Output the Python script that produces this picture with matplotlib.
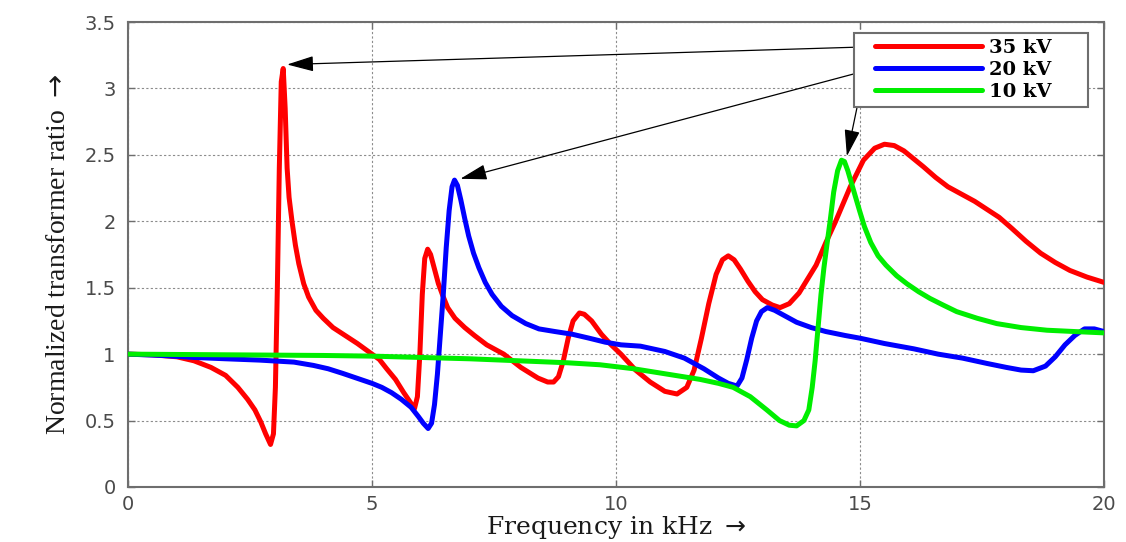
import matplotlib
matplotlib.use("Agg")
import matplotlib.pyplot as plt
from matplotlib.patches import Rectangle

# Frequency (kHz) and normalized transformer ratio for each rated voltage
freq_35kv = [0.0, 0.5, 1.0, 1.35, 1.7, 2.0, 2.25, 2.45, 2.6, 2.72, 2.82, 2.92, 2.98,
             3.02, 3.06, 3.10, 3.14, 3.18, 3.22, 3.26, 3.30, 3.36, 3.43, 3.50, 3.60,
             3.70, 3.85, 4.00, 4.20, 4.45, 4.70, 5.00, 5.15, 5.30, 5.48, 5.65, 5.78,
             5.87, 5.93, 5.98, 6.03, 6.08, 6.14, 6.20, 6.28, 6.36, 6.45, 6.55, 6.70,
             6.90, 7.10, 7.35, 7.70, 8.05, 8.40, 8.60, 8.72, 8.82, 8.92, 9.02, 9.12,
             9.25, 9.35, 9.50, 9.70, 9.90, 10.1, 10.4, 10.7, 11.0, 11.25, 11.45, 11.6,
             11.75, 11.9, 12.05, 12.18, 12.30, 12.42, 12.55, 12.70, 12.85, 13.0, 13.2,
             13.36, 13.55, 13.75, 13.95, 14.1, 14.3, 14.5, 14.8, 15.07, 15.3, 15.5,
             15.7, 15.9, 16.1, 16.3, 16.55, 16.8, 17.1, 17.35, 17.6, 17.85, 18.1, 18.4,
             18.7, 19.0, 19.3, 19.65, 20.0]
ratio_35kv = [1.00, 0.995, 0.98, 0.95, 0.90, 0.84, 0.75, 0.66, 0.58, 0.49, 0.40, 0.32, 0.40,
              0.75, 1.50, 2.40, 3.05, 3.15, 2.85, 2.40, 2.18, 2.00, 1.82, 1.68, 1.53,
              1.43, 1.33, 1.27, 1.20, 1.14, 1.08, 1.00, 0.96, 0.89, 0.81, 0.71, 0.64,
              0.59, 0.68, 1.00, 1.45, 1.72, 1.79, 1.75, 1.64, 1.53, 1.44, 1.35, 1.27,
              1.20, 1.14, 1.07, 1.00, 0.90, 0.82, 0.79, 0.79, 0.83, 0.95, 1.12, 1.25,
              1.31, 1.30, 1.25, 1.15, 1.07, 1.00, 0.88, 0.79, 0.72, 0.70, 0.75, 0.88,
              1.12, 1.38, 1.60, 1.71, 1.74, 1.71, 1.64, 1.55, 1.47, 1.41, 1.37,
              1.35, 1.38, 1.46, 1.58, 1.67, 1.84, 2.00, 2.26, 2.46, 2.55, 2.58,
              2.57, 2.53, 2.47, 2.41, 2.33, 2.26, 2.20, 2.15, 2.09, 2.03, 1.95, 1.85,
              1.76, 1.69, 1.63, 1.58, 1.54]

freq_20kv = [0.0, 0.7, 1.35, 2.0, 2.7, 3.4, 3.8, 4.1, 4.4, 4.76, 5.0, 5.2, 5.4, 5.6,
             5.8, 5.95, 6.05, 6.15, 6.22, 6.28, 6.34, 6.40, 6.46, 6.52, 6.58, 6.64,
             6.69, 6.75, 6.82, 6.90, 6.98, 7.08, 7.19, 7.32, 7.46, 7.65, 7.87, 8.15,
             8.42, 8.75, 9.10, 9.45, 9.78, 10.1, 10.5, 11.0, 11.4, 11.8, 12.1, 12.3,
             12.48, 12.58, 12.68, 12.78, 12.88, 12.98, 13.10, 13.25, 13.45, 13.70,
             14.0, 14.3, 14.7, 15.0, 15.5, 16.1, 16.6, 17.1, 17.6, 18.0, 18.3, 18.55,
             18.8, 19.0, 19.2, 19.4, 19.6, 19.8, 20.0]
ratio_20kv = [1.00, 0.99, 0.975, 0.965, 0.955, 0.94, 0.915, 0.89, 0.855, 0.81, 0.78, 0.75,
              0.71, 0.66, 0.60, 0.53, 0.48, 0.44, 0.48, 0.62, 0.85, 1.15, 1.45, 1.80,
              2.08, 2.26, 2.31, 2.27, 2.16, 2.02, 1.89, 1.76, 1.65, 1.54, 1.45, 1.36,
              1.29, 1.23, 1.19, 1.17, 1.15, 1.12, 1.09, 1.07, 1.06, 1.02, 0.97, 0.89,
              0.82, 0.78, 0.76, 0.82, 0.96, 1.12, 1.25, 1.32, 1.35, 1.33, 1.29, 1.24,
              1.20, 1.17, 1.14, 1.12, 1.08, 1.04, 1.00, 0.97, 0.93, 0.90, 0.88, 0.875,
              0.91, 0.98, 1.07, 1.14, 1.19, 1.19, 1.17]

freq_10kv = [0.0, 2.0, 4.0, 5.0, 6.0, 7.0, 8.0, 9.0, 9.67, 10.36, 11.04, 11.72, 12.1,
             12.4, 12.75, 13.09, 13.35, 13.55, 13.70, 13.85, 13.95, 14.02, 14.08,
             14.14, 14.20, 14.26, 14.32, 14.39, 14.46, 14.54, 14.62, 14.68, 14.75,
             14.83, 14.91, 14.99, 15.09, 15.22, 15.37, 15.53, 15.75, 15.96, 16.2,
             16.43, 16.7, 16.98, 17.4, 17.8, 18.3, 18.83, 19.4, 20.0]
ratio_10kv = [1.00, 0.995, 0.99, 0.985, 0.975, 0.965, 0.95, 0.935, 0.92, 0.89, 0.85, 0.81,
              0.78, 0.75, 0.68, 0.58, 0.50, 0.465, 0.46, 0.50, 0.58, 0.75, 0.95,
              1.20, 1.45, 1.65, 1.82, 2.01, 2.22, 2.38, 2.46, 2.45, 2.38,
              2.28, 2.18, 2.08, 1.96, 1.84, 1.74, 1.67, 1.59, 1.53, 1.47,
              1.42, 1.37, 1.32, 1.27, 1.23, 1.20, 1.18, 1.17, 1.16]

series_labels = ["35 kV", "20 kV", "10 kV"]
series_colors = ["#ff0000", "#0000ff", "#00ee00"]

x_ticks = [0, 5, 10, 15, 20]
y_ticks = [0, 0.5, 1, 1.5, 2, 2.5, 3, 3.5]
y_tick_labels = ["0", "0.5", "1", "1.5", "2", "2.5", "3", "3.5"]

fig = plt.figure(figsize=(11.26, 5.42), dpi=100)
ax = fig.add_axes([0.1137, 0.1015, 0.9805 - 0.1137, 0.9594 - 0.1015])

lw = 3.6
lines = []
for fx, fy, lab, col in zip([freq_35kv, freq_20kv, freq_10kv],
                            [ratio_35kv, ratio_20kv, ratio_10kv],
                            series_labels, series_colors):
    ln, = ax.plot(fx, fy, color=col, lw=lw, label=lab, solid_capstyle="round",
                  solid_joinstyle="round", zorder=3)
    lines.append(ln)

ax.set_xlim(0, 20)
ax.set_ylim(0, 3.5)
ax.set_xticks(x_ticks)
ax.set_xticklabels([str(t) for t in x_ticks])
ax.set_yticks(y_ticks)
ax.set_yticklabels(y_tick_labels)

ax.grid(True, color="#8c8c8c", linestyle=(0, (2, 2)), linewidth=0.8, zorder=0)
for sp in ax.spines.values():
    sp.set_color("#6e6e6e")
    sp.set_linewidth(1.5)
ax.tick_params(direction="in", length=5, width=1, color="#6e6e6e",
               top=True, right=True, labelsize=14, labelcolor="#4a4a4a")
ax.tick_params(axis="x", pad=6)
ax.tick_params(axis="y", pad=9)
for t in ax.get_xticklabels() + ax.get_yticklabels():
    t.set_family("DejaVu Sans")

ax.set_xlabel("Frequency in kHz $\\rightarrow$", family="DejaVu Serif", fontsize=18,
              labelpad=0, color="#1a1a1a")
ax.set_ylabel("Normalized transformer ratio $\\rightarrow$", family="Liberation Serif",
              fontsize=20, labelpad=10, color="#1a1a1a")

# Legend box and entries
fig_w, fig_h = 1126.0, 542.0
def ax_frac(px, py):
    bb = ax.get_position()
    return ((px / fig_w - bb.x0) / bb.width, ((fig_h - py) / fig_h - bb.y0) / bb.height)

x0, y0 = ax_frac(854, 107)
x1, y1 = ax_frac(1088, 33)
ax.add_patch(Rectangle((x0, y0), x1 - x0, y1 - y0, transform=ax.transAxes,
                       facecolor="white", edgecolor="#6e6e6e", lw=1.5, zorder=5))
lx, ly = ax_frac(875, 70)
leg = ax.legend(handles=lines, loc="center left", bbox_to_anchor=(lx, ly),
                frameon=False, borderpad=0, borderaxespad=0, labelspacing=0.2,
                handlelength=5.5, handletextpad=0.35,
                prop={"family": "DejaVu Serif", "weight": "bold", "size": 14})
leg.set_zorder(6)

# Arrows from the legend to the resonance peaks
arrow_kw = dict(arrowstyle="-|>,head_length=1.1,head_width=0.32", color="black",
                lw=0.9, mutation_scale=15, shrinkA=0, shrinkB=0)
ax.annotate("", xy=(3.26, 3.18), xytext=(14.88, 3.31), arrowprops=arrow_kw, zorder=4)
ax.annotate("", xy=(6.81, 2.32), xytext=(14.88, 3.11), arrowprops=arrow_kw, zorder=4)
ax.annotate("", xy=(14.73, 2.49), xytext=(14.94, 2.86), arrowprops=arrow_kw, zorder=4)

fig.savefig("out.png", dpi=100)
